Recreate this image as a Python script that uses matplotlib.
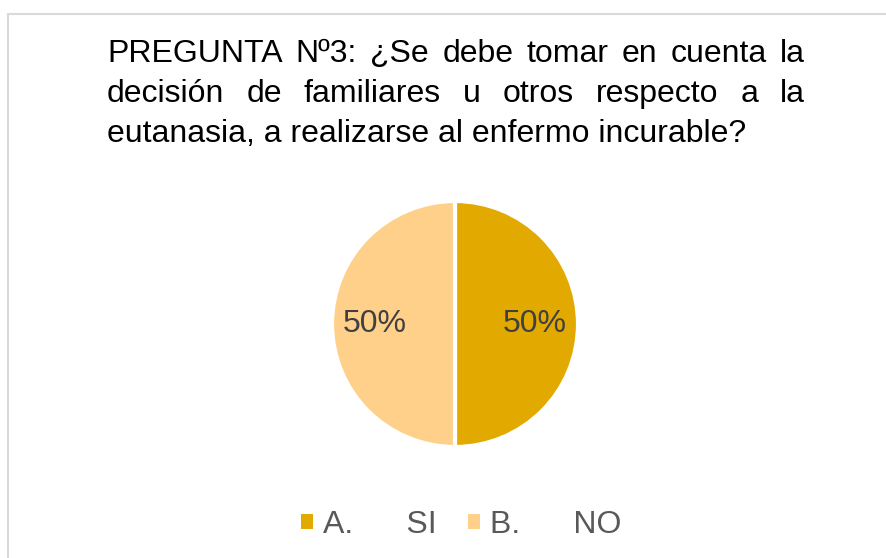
import matplotlib
matplotlib.use("Agg")
from matplotlib import pyplot as plt
from matplotlib.patches import Rectangle, Patch

plt.rcParams['font.family'] = ['Liberation Sans', 'DejaVu Sans']

labels = ["A.      SI", "B.      NO"]
values = [50, 50]
colors = ["#E2AA00", "#FFD08A"]
title_lines = ["PREGUNTA Nº3: ¿Se debe tomar en cuenta la",
               "decisión de familiares u otros respecto a la",
               "eutanasia, a realizarse al enfermo incurable?"]

W, H = 886, 558
fig = plt.figure(figsize=(W / 100, H / 100), dpi=100)

# chart border (only top and left are visible in the crop)
fig.patches.append(Rectangle((8 / W, -0.05), 1.0, (H - 14) / H + 0.05,
                             transform=fig.transFigure, fill=False,
                             edgecolor="#D9D9D9", linewidth=1.5))

# title, justified for the first two lines
x0, x1 = 107, 805
baselines = [62, 102, 142]
fs = 23
renderer = fig.canvas.get_renderer()
for i, line in enumerate(title_lines):
    y = 1 - baselines[i] / H
    if i == len(title_lines) - 1:
        fig.text(x0 / W, y, line, fontsize=fs, color="black", va="baseline")
        continue
    words = line.split(" ")
    widths = []
    for w in words:
        t = fig.text(0, 0, w, fontsize=fs)
        widths.append(t.get_window_extent(renderer).width)
        t.remove()
    gap = (x1 - x0 - sum(widths)) / (len(words) - 1)
    x = x0
    for w, wd in zip(words, widths):
        fig.text(x / W, y, w, fontsize=fs, color="black", va="baseline")
        x += wd + gap

# pie
cx, cy, r = 455, 324, 123
ax = fig.add_axes([(cx - r) / W, (H - cy - r) / H, 2 * r / W, 2 * r / H])
wedges, texts, autotexts = ax.pie(values, colors=colors, startangle=90,
                                  counterclock=False, autopct="%1.0f%%",
                                  pctdistance=0.65,
                                  wedgeprops=dict(edgecolor="white", linewidth=3))
for t in autotexts:
    t.set_fontsize(23)
    t.set_color("#404040")
ax.set_xlim(-1, 1)
ax.set_ylim(-1, 1)
ax.set_aspect("equal")

handles = [Patch(facecolor=c, edgecolor="none") for c in colors]
fig.legend(handles, labels, loc="center", bbox_to_anchor=(461 / W, 1 - 525 / H),
           ncol=2, frameon=False, fontsize=23, labelcolor="#595959",
           handlelength=0.38, handleheight=0.38, handletextpad=0.3,
           columnspacing=1.0)

fig.savefig("out.png", dpi=100)
